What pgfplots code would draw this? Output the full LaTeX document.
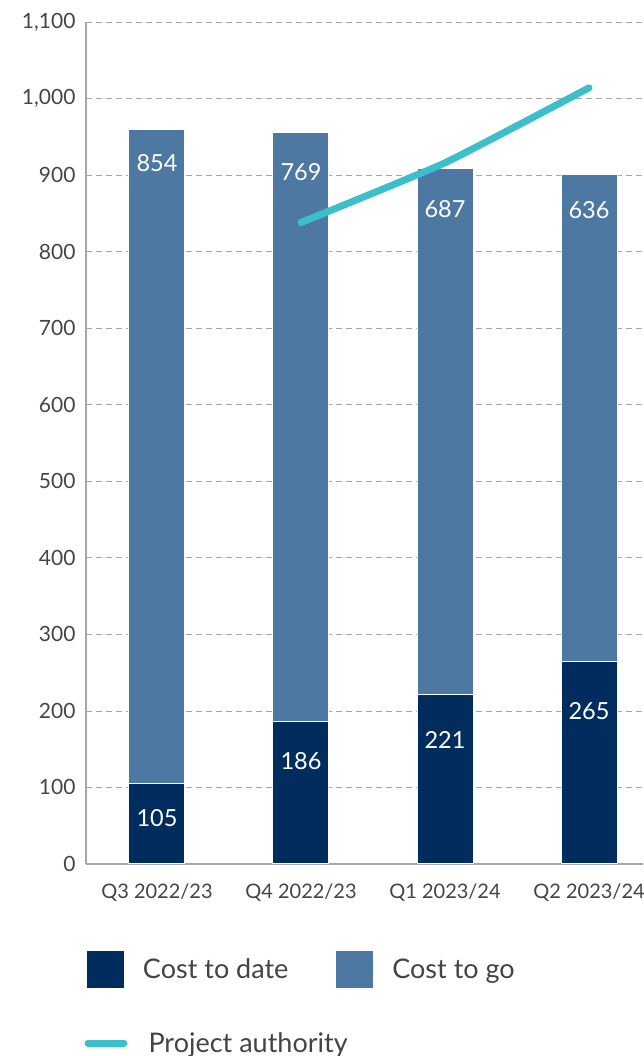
\documentclass[border=0pt]{standalone}
\usepackage{fontspec}
\setmainfont{Lato}
\usepackage{pgfplots}
\pgfplotsset{compat=1.18}
\definecolor{navy}{HTML}{012D5E}
\definecolor{steel}{HTML}{4D78A2}
\definecolor{teal2}{HTML}{3BBFCB}
\definecolor{txt}{HTML}{444444}
\definecolor{gridc}{HTML}{A6A6A6}
\tikzset{barlab/.style={text=white, font=\fontsize{23.5}{26}\selectfont}}
\begin{document}
\begin{tikzpicture}
\useasboundingbox (-86pt,-192pt) rectangle (557pt,864pt);
\begin{axis}[
 at={(0pt,0pt)}, anchor=south west,
 scale only axis, width=557pt, height=842pt,
 xmin=-0.493, xmax=3.375, ymin=0, ymax=1100,
 ybar stacked, bar width=56pt,
 xtick={0,1,2,3}, xticklabels={Q3 2022/23, Q4 2022/23, Q1 2023/24, Q2 2023/24},
 ytick={0,100,...,1100},
 axis x line*=bottom, axis y line*=left,
 axis line style={draw=gridc, line width=2pt},
 ymajorgrids, grid style={dash pattern=on 6pt off 4pt, gridc, line width=0.8pt},
 major tick length=0pt,
 /pgf/number format/assume math mode=true,
 /pgf/number format/1000 sep={,},
 yticklabel style={font=\fontsize{21}{24}\selectfont, text=txt, xshift=-7pt},
 xticklabel style={font=\fontsize{20}{23}\selectfont, text=txt, yshift=-16pt},
 clip=false,
 legend columns=2, legend cell align=left,
 legend style={at={(0,0)}, anchor=north west, yshift=-87pt, xshift=1pt, draw=none, fill=none,
   inner sep=0pt, outer sep=0pt, font=\fontsize{27}{30}\selectfont, text=txt,
   nodes={inner sep=0pt},
   /tikz/every odd column/.append style={column sep=19pt},
   /tikz/every even column/.append style={column sep=48pt}},
]
\addplot[fill=navy, draw=white, line width=1pt,
  legend image code/.code={\fill[navy] (0pt,-18pt) rectangle (36pt,18pt);}]
  coordinates {(0,105) (1,186) (2,221) (3,265)};
\addlegendentry{Cost to date}
\addplot[fill=steel, draw=white, line width=1pt,
  legend image code/.code={\fill[steel] (0pt,-18pt) rectangle (36pt,18pt);}]
  coordinates {(0,854) (1,769) (2,687) (3,636)};
\addlegendentry{Cost to go}
\end{axis}
\begin{axis}[
 at={(0pt,0pt)}, anchor=south west,
 scale only axis, width=557pt, height=842pt,
 xmin=-0.493, xmax=3.375, ymin=0, ymax=1100,
 hide axis, clip=false,
 legend cell align=left,
 legend style={at={(0,0)}, anchor=west, yshift=-179pt, xshift=-1.5pt, draw=none, fill=none,
   inner sep=0pt, outer sep=0pt, font=\fontsize{27}{30}\selectfont, text=txt,
   nodes={inner sep=0pt},
   /tikz/every odd column/.append style={column sep=21pt}},
]
\node[barlab] at (axis cs:0,915.8) {854};
\node[barlab] at (axis cs:1,904) {769};
\node[barlab] at (axis cs:2,855.7) {687};
\node[barlab] at (axis cs:3,854.4) {636};
\node[barlab] at (axis cs:0,60) {105};
\node[barlab] at (axis cs:1,134.6) {186};
\node[barlab] at (axis cs:2,162) {221};
\node[barlab] at (axis cs:3,200) {265};
\addplot[teal2, line width=7pt, line cap=round, line join=round, smooth, tension=0.25,
  legend image code/.code={\draw[teal2, line width=7pt, line cap=round] (0pt,0pt) -- (36pt,0pt);}]
  coordinates {(1,838) (2,916) (3,1014)};
\addlegendentry{Project authority}
\end{axis}
\end{tikzpicture}
\end{document}
